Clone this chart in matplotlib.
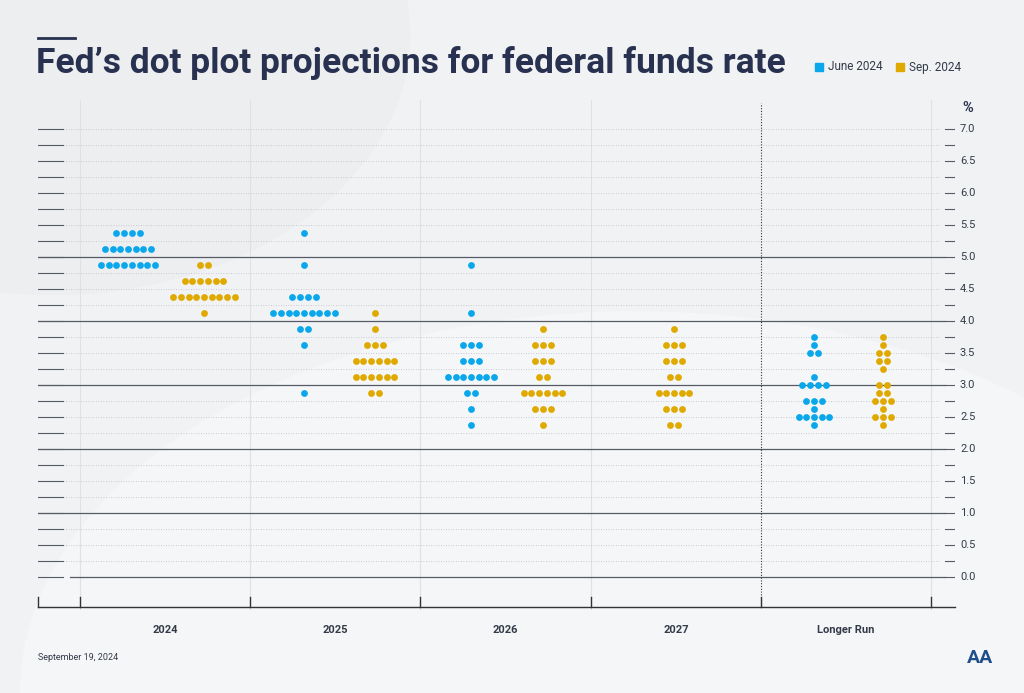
import matplotlib.pyplot as plt
import matplotlib as mpl
import numpy as np

mpl.rcParams["font.family"] = ["Roboto", "DejaVu Sans"]

# ── Data: rate level -> number of dots ────────────────────────────────────────
periods = ["2024", "2025", "2026", "2027", "Longer Run"]

june_2024 = {5.375: 4, 5.125: 7, 4.875: 8}
sep_2024 = {4.875: 2, 4.625: 6, 4.375: 9, 4.125: 1}
june_2025 = {5.375: 1, 4.875: 1, 4.375: 4, 4.125: 9, 3.875: 2, 3.625: 1, 2.875: 1}
sep_2025 = {4.125: 1, 3.875: 1, 3.625: 3, 3.375: 6, 3.125: 6, 2.875: 2}
june_2026 = {4.875: 1, 4.125: 1, 3.625: 3, 3.375: 3, 3.125: 7, 2.875: 2, 2.625: 1, 2.375: 1}
sep_2026 = {3.875: 1, 3.625: 3, 3.375: 3, 3.125: 2, 2.875: 6, 2.625: 3, 2.375: 1}
sep_2027 = {3.875: 1, 3.625: 3, 3.375: 3, 3.125: 2, 2.875: 5, 2.625: 3, 2.375: 2}
june_lr = {3.75: 1, 3.625: 1, 3.5: 2, 3.125: 1, 3.0: 4, 2.75: 3, 2.625: 1, 2.5: 5, 2.375: 1}
sep_lr = {3.75: 1, 3.625: 1, 3.5: 2, 3.375: 2, 3.25: 1, 3.0: 2, 2.875: 2, 2.75: 3,
          2.625: 1, 2.5: 3, 2.375: 1}

BLUE = "#0aa8ea"
GOLD = "#e0a900"
NAVY = "#283250"

# column centres (pixel-like x units)
columns = [
    (128, june_2024, BLUE), (204, sep_2024, GOLD),
    (304, june_2025, BLUE), (375, sep_2025, GOLD),
    (471, june_2026, BLUE), (543, sep_2026, GOLD),
    (674, sep_2027, GOLD),
    (814, june_lr, BLUE), (883, sep_lr, GOLD),
]
period_centres = [165, 335, 505, 676, 846]
separators = [80, 250, 420, 591, 761, 931]
DOT_GAP = 7.7

fig = plt.figure(figsize=(10.24, 6.93), dpi=100)
fig.patch.set_facecolor("#f1f2f4")

# background swirls in their own axes, behind everything
bg = fig.add_axes([0, 0, 1, 1], zorder=-5)
bg.set_xlim(0, 1); bg.set_ylim(0, 1); bg.axis("off")
bg.add_patch(mpl.patches.Ellipse((0.62, 0.0), 1.2, 1.1, color="#f5f6f7"))
bg.add_patch(mpl.patches.Ellipse((0.05, 0.95), 0.7, 0.75, color="#edeef0"))

W, H = 1024, 693
x0, x1, ytop, ybot = 38, 955, 100, 610
ax = fig.add_axes([x0 / W, 1 - ybot / H, (x1 - x0) / W, (ybot - ytop) / H])
ax.set_facecolor("none")
ax.set_xlim(x0, x1)
ax.set_ylim((577 - ybot) / 64, (577 - ytop) / 64)
for s in ax.spines.values():
    s.set_visible(False)
ax.set_xticks([]); ax.set_yticks([])

# grid
for k in range(0, 29):
    v = k * 0.25
    if k % 4 == 0 and v <= 5:
        ax.plot([70 if v == 0 else 38, 945], [v, v], color="#555b66", lw=0.9, zorder=1)
    else:
        ax.plot([63, 940], [v, v], color="#b9bdc4", lw=0.6, ls=(0, (1, 2)), zorder=1)
    ax.plot([38, 63], [v, v], color="#555b66", lw=0.8, zorder=1)
    ax.plot([945, 955], [v, v], color="#555b66", lw=0.8, zorder=1)
    if k % 2 == 0:
        ax.text(960, v, f"{v:.1f}", fontsize=8, color="#333a48", va="center",
                ha="left", clip_on=False)
ax.text(962, 7.33, "%", fontsize=10.5, fontweight="bold", color=NAVY, va="center",
        clip_on=False)

for sx in separators[:-2] + [separators[-1]]:
    ax.axvline(sx, color="#dfe1e4", lw=0.8, zorder=0.5)
ax.plot([761, 761], [-0.45, 7.4], color="#333", lw=0.8, ls=(0, (1, 1.5)), zorder=1)

# bottom axis
yb = (577 - 607) / 64
ax.plot([38, 955], [yb, yb], color="#333", lw=1, clip_on=False)
for sx in [38] + separators:
    ax.plot([sx, sx], [yb, yb + 10 / 64], color="#333", lw=1, clip_on=False)
for cx, lab in zip(period_centres, periods):
    ax.text(cx, (577 - 630) / 64, lab, ha="center", va="center", fontsize=8,
            fontweight="bold", color="#333a48", clip_on=False)

# dots
for cx, counts, col in columns:
    xs, ys = [], []
    for rate, n in counts.items():
        off = (np.arange(n) - (n - 1) / 2) * DOT_GAP
        xs.extend(cx + off); ys.extend([rate] * n)
    ax.plot(xs, ys, "o", color=col, ms=4.9, mec="none", zorder=3)

# title & legend
fig.text(36 / W, 1 - 63 / H, "Fed’s dot plot projections for federal funds rate",
         fontsize=25.5, fontweight="bold", color=NAVY, va="center", ha="left")
fig.add_artist(mpl.lines.Line2D([38 / W, 75 / W], [1 - 38 / H] * 2, color=NAVY, lw=2))
for lx, lab, col in [(815, "June 2024", BLUE), (896, "Sep. 2024", GOLD)]:
    fig.patches.append(mpl.patches.Rectangle((lx / W, 1 - 71 / H), 8 / W, 8 / H,
                                             transform=fig.transFigure, color=col))
    fig.text((lx + 13) / W, 1 - 67 / H, lab, fontsize=8.5, color="#333a48", va="center")

fig.text(38 / W, 1 - 658 / H, "September 19, 2024", fontsize=6.5, color="#333a48",
         va="center")
fig.text(980 / W, 1 - 658 / H, "AA", fontsize=14, fontweight="bold", color="#1f4e8c",
         va="center", ha="center")

fig.savefig("out.png", dpi=100, facecolor=fig.get_facecolor())
